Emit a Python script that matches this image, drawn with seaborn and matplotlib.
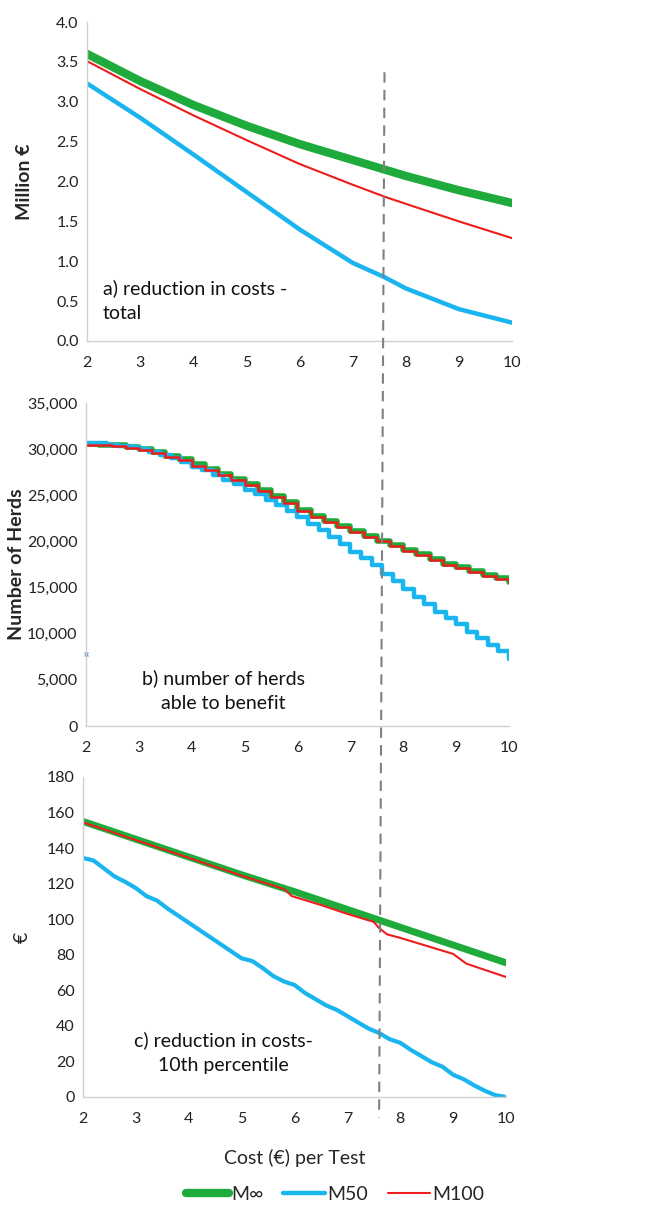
import numpy as np
import pandas as pd
import matplotlib
matplotlib.use('Agg')
import matplotlib.pyplot as plt
import seaborn as sns
from matplotlib.lines import Line2D
from matplotlib.ticker import FuncFormatter

sns.set_style('white')
plt.rcParams['font.family'] = ['Lato', 'DejaVu Sans']

GREEN = '#1fab3c'
BLUE = '#1ab4ef'
RED = '#ee1c1c'

# a) reduction in costs - total (Million €)
cost_a = [2, 3, 4, 5, 6, 7, 7.6, 8, 9, 10]
a_minf = [3.60, 3.26, 2.96, 2.70, 2.47, 2.27, 2.15, 2.07, 1.89, 1.73]
a_m50 = [3.23, 2.80, 2.34, 1.87, 1.40, 0.98, 0.80, 0.66, 0.40, 0.23]
a_m100 = [3.51, 3.16, 2.83, 2.52, 2.22, 1.96, 1.81, 1.72, 1.50, 1.29]

# b) number of herds able to benefit
cost_b = [2, 2.25, 2.5, 2.75, 3, 3.25, 3.5, 3.75, 4, 4.25, 4.5, 4.75, 5, 5.25,
          5.5, 5.75, 6, 6.25, 6.5, 6.75, 7, 7.25, 7.5, 7.75, 8, 8.25, 8.5,
          8.75, 9, 9.25, 9.5, 9.75, 10]
b_minf = [30600, 30500, 30400, 30200, 30000, 29700, 29300, 28900, 28400, 27900,
          27300, 26800, 26250, 25600, 24900, 24300, 23400, 22800, 22200, 21700,
          21100, 20600, 20100, 19600, 19100, 18600, 18100, 17600, 17200, 16800,
          16400, 16000, 15600]
b_m100 = [30500, 30400, 30300, 30100, 29900, 29600, 29200, 28800, 28200, 27700,
          27200, 26700, 26100, 25500, 24800, 24200, 23300, 22700, 22100, 21600,
          21000, 20500, 20000, 19500, 19000, 18500, 18000, 17500, 17100, 16700,
          16300, 15900, 15500]
cost_b50 = [2, 2.2, 2.4, 2.6, 2.8, 3, 3.2, 3.4, 3.6, 3.8, 4, 4.2, 4.4, 4.6,
            4.8, 5, 5.2, 5.4, 5.6, 5.8, 6, 6.2, 6.4, 6.6, 6.8, 7, 7.2, 7.4,
            7.6, 7.8, 8, 8.2, 8.4, 8.6, 8.8, 9, 9.2, 9.4, 9.6, 9.8, 10]
b_m50 = [30700, 30650, 30500, 30350, 30200, 30000, 29700, 29400, 29000, 28600,
         28100, 27700, 27200, 26700, 26200, 25600, 25100, 24500, 23900, 23300,
         22600, 21900, 21200, 20500, 19700, 18900, 18200, 17400, 16500, 15700,
         14800, 14000, 13200, 12400, 11700, 11000, 10200, 9500, 8800, 8100,
         7300]
b_marker = 7850

# c) reduction in costs - 10th percentile (€)
cost_c_minf = [2, 3, 4, 5, 6, 7, 8, 9, 10]
c_minf = [155, 145, 135, 125, 115.5, 105.5, 95.5, 85.5, 75.5]
cost_c_m100 = [2, 3, 4, 5, 5.8, 5.95, 6.5, 7, 7.5, 7.6, 7.75, 8, 8.5, 9,
               9.25, 9.5, 10]
c_m100 = [154.5, 144.5, 134.5, 124.5, 117, 113, 108, 103, 98.5, 95, 91.5, 89.5,
          85, 80.5, 75, 72.5, 67.5]
cost_c_m50 = [2, 2.2, 2.4, 2.6, 2.8, 3, 3.2, 3.4, 3.6, 3.8, 4, 4.2, 4.4, 4.6,
              4.8, 5, 5.2, 5.4, 5.6, 5.8, 6, 6.2, 6.4, 6.6, 6.8, 7, 7.2, 7.4,
              7.6, 7.8, 8, 8.2, 8.4, 8.6, 8.8, 9, 9.2, 9.4, 9.6, 9.8, 10]
c_m50 = [134.5, 133, 128.5, 124, 121, 117.5, 113, 110.5, 106, 102, 98, 94,
         90, 86, 82, 78, 76.5, 72.5, 68, 65, 63, 58.5, 55, 51.5, 49, 45.5,
         42, 38.5, 36, 32.5, 30.5, 26.5, 23, 19.5, 17, 12.5, 10, 6.5, 3.5, 1,
         0]

test_cost = 7.6

fig = plt.figure(figsize=(6.51, 12.06), dpi=100)
ax_a = fig.add_axes([87 / 651, 1 - 341 / 1206, 425 / 651, 319 / 1206])
ax_b = fig.add_axes([86 / 651, 1 - 726 / 1206, 423 / 651, 323 / 1206])
ax_c = fig.add_axes([83 / 651, 1 - 1097 / 1206, 423 / 651, 320 / 1206])

# panel a
sns.lineplot(x=cost_a, y=a_minf, ax=ax_a, color=GREEN, lw=6, label='M∞')
sns.lineplot(x=cost_a, y=a_m50, ax=ax_a, color=BLUE, lw=3.2, label='M50')
sns.lineplot(x=cost_a, y=a_m100, ax=ax_a, color=RED, lw=1.5, label='M100')
ax_a.set_ylim(0, 4.0)
ax_a.set_yticks(np.arange(0, 4.01, 0.5))
ax_a.yaxis.set_major_formatter(FuncFormatter(lambda v, p: f'{v:.1f}'))
ax_a.set_ylabel('Million €', fontsize=14, fontweight='bold')
ax_a.yaxis.set_label_coords(-0.127, 0.5)
ax_a.text(2.3, 0.24, 'a) reduction in costs -\ntotal', fontsize=14,
          ha='left', va='bottom', linespacing=1.55, color='#111111')

# panel b
sns.lineplot(x=cost_b, y=b_minf, ax=ax_b, color=GREEN, lw=4,
             drawstyle='steps-post')
sns.lineplot(x=cost_b50, y=b_m50, ax=ax_b, color=BLUE, lw=3.2,
             drawstyle='steps-post')
sns.lineplot(x=cost_b, y=b_m100, ax=ax_b, color=RED, lw=1.8,
             drawstyle='steps-post')
ax_b.plot([2], [b_marker], marker='x', ms=3, color='#7a9cc6', clip_on=False)
ax_b.set_ylim(0, 35000)
ax_b.set_yticks(np.arange(0, 35001, 5000))
ax_b.yaxis.set_major_formatter(FuncFormatter(lambda v, p: f'{int(v):,}'))
ax_b.set_ylabel('Number of Herds', fontsize=14, fontweight='bold')
ax_b.yaxis.set_label_coords(-0.144, 0.5)
ax_b.text(4.6, 1500, 'b) number of herds\nable to benefit', fontsize=14,
          ha='center', va='bottom', multialignment='center', linespacing=1.55,
          color='#111111')

# panel c
sns.lineplot(x=cost_c_minf, y=c_minf, ax=ax_c, color=GREEN, lw=5)
sns.lineplot(x=cost_c_m50, y=c_m50, ax=ax_c, color=BLUE, lw=3)
sns.lineplot(x=cost_c_m100, y=c_m100, ax=ax_c, color=RED, lw=1.5)
ax_c.set_ylim(0, 180)
ax_c.set_yticks(np.arange(0, 181, 20))
ax_c.set_ylabel('€', fontsize=14)
ax_c.yaxis.set_label_coords(-0.123, 0.5)
ax_c.text(4.65, 13, 'c) reduction in costs-\n10th percentile', fontsize=14,
          ha='center', va='bottom', multialignment='center', linespacing=1.55,
          color='#111111')
ax_c.set_xlabel('Cost (€) per Test', fontsize=14, labelpad=16)

for ax in (ax_a, ax_b, ax_c):
    ax.set_xlim(2, 10)
    ax.set_xticks(range(2, 11))
    sns.despine(ax=ax, top=True, right=True)
    for s in ('left', 'bottom'):
        ax.spines[s].set_color('#d0d0d0')
        ax.spines[s].set_linewidth(1)
    ax.tick_params(axis='x', direction='in', length=4, color='#d0d0d0',
                   labelsize=11.5, pad=11, labelcolor='#222222')
    ax.tick_params(axis='y', direction='out', length=4, color='#d0d0d0',
                   labelsize=11.5, pad=2, labelcolor='#222222')
    if ax is not ax_a:
        leg = ax.get_legend()
        if leg:
            leg.remove()

# dashed line marking the test cost across all panels
fig.canvas.draw()
to_fig = fig.transFigure.inverted()
x0, y0 = to_fig.transform(ax_a.transData.transform((test_cost, 3.37)))
x1, y1 = to_fig.transform(ax_c.transData.transform((test_cost, -11.5)))
fig.add_artist(Line2D([x0, x1], [y0, y1], transform=fig.transFigure,
                      color='#808080', lw=1.5, linestyle=(0, (5, 3.5)),
                      zorder=10))

handles, labels = ax_a.get_legend_handles_labels()
ax_a.get_legend().remove()
fig.legend(handles, labels, loc='center',
           bbox_to_anchor=(0.515, 1 - 1194 / 1206),
           ncol=3, frameon=False, fontsize=14, handlelength=2.2,
           handletextpad=0.1, columnspacing=1.0)

fig.savefig('out.png', dpi=100)
